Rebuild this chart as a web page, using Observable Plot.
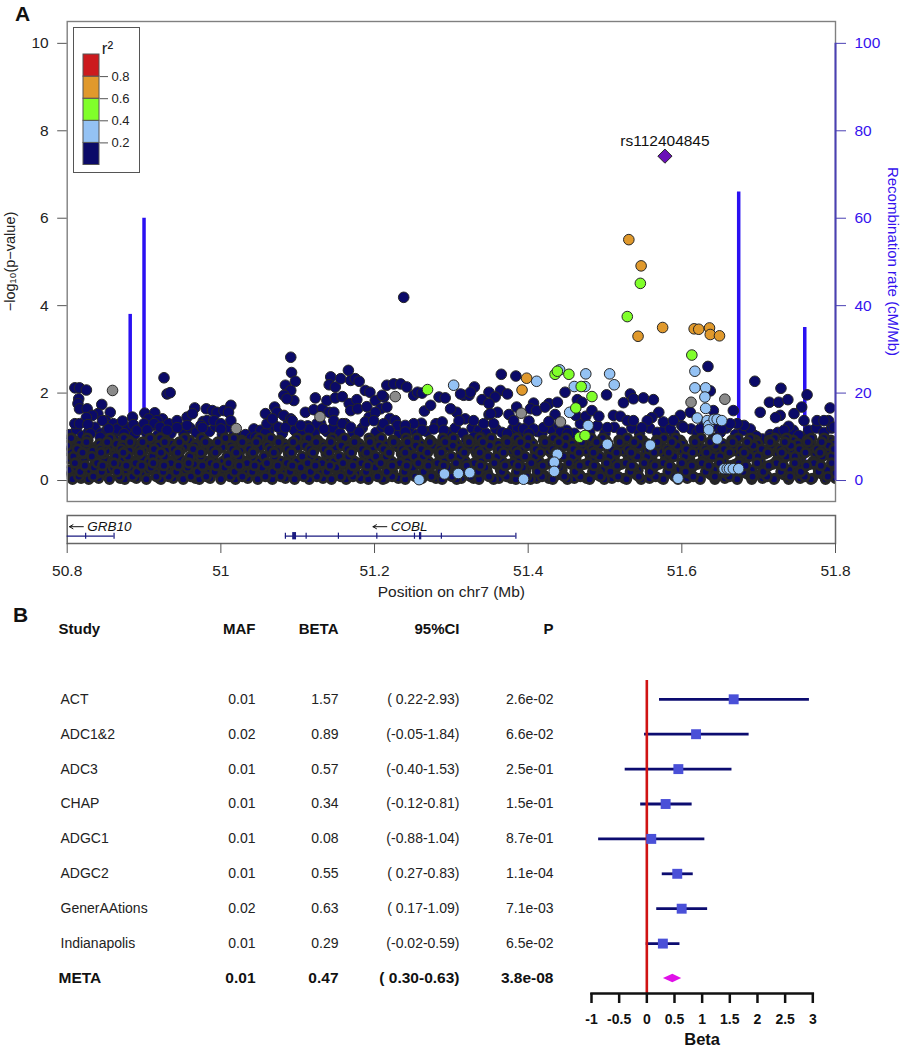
<!DOCTYPE html>
<html><head><meta charset="utf-8">
<script src="https://cdn.jsdelivr.net/npm/d3@7"></script>
<script src="https://cdn.jsdelivr.net/npm/@observablehq/plot@0.6"></script>
<style>
html,body{margin:0;padding:0;background:#fff;}
#page{position:relative;width:902px;height:1050px;overflow:hidden;font-family:"Liberation Sans",sans-serif;color:#111;}
#page>svg,#page>div{position:absolute;}
.tag{font-weight:bold;font-size:21px;line-height:21px;}
</style></head><body><div id="page"></div>
<script>
// --- Panel A data: positions are kb past 50.8 Mb, values are -log10(p)
const floorLevels=[0.50,0.13,0.92,0.37,0.76,0.05,0.61,0.24,0.84,0.03,0.44,0.68,0.17,0.97,0.30,0.55,0.09,0.80,0.40,0.72,0.20,0.64,0.34,0.88];
const floorA=[1,22,49,71,99,118,147,169,190,221,243,272,289,318,340,369,388,417,438,466,491,509,540,558,589,607,638,662,681,712,731,761,779,810,833,851,882,901,931,954,979];
const floorB=[4,31,50,78,101,131,148,179,199,230,249,277,301,322,352,371,400,419,449,468,497,521,539,569,588,620,638,667,690,711,741,760,789,812,838,858,887,909,933,958,984,1000];
const floorC=[9,27,58,80,110,128,159,178,209,227,257,276,309,326,358,375,405,424,456,473,504,522,553,571,602,620,650,669,701,718,749,767,798,816,847,865,896,914,945,963,994];
const floorD=[14,36,66,84,117,133,165,183,214,231,263,281,312,329,361,378,411,428,459,477,510,526,559,574,607,624,656,673,705,721,754,770,803,820,852,869,901,918,950,967,999];
const floorE=[6,37,54,87,104,137,152,185,202,236,251,283,300,333,349,382,398,431,447,481,496,529,545,578,594,627,643,676,692,725,741,774,790,823,839,872,888,921,937,970,986];
const floorF=[18,41,69,90,120,138,167,186,219,235,266,284,315,333,364,382,414,431,462,480,513,529,562,578,611,627,660,676,709,725,758,774,807,823,856,872,905,921,954,970,1000];
const floorG=[21,47,62,93,124,141,171,190,223,239,270,288,319,337,367,386,418,435,465,484,516,533,565,582,614,631,663,680,713,729,761,778,811,827,859,876,908,925,957,974,996];
const floorH=[2,29,53,76,106,124,154,173,204,222,253,271,303,320,351,369,399,417,448,467,499,516,546,564,597,613,644,662,696,711,743,760,793,809,842,858,891,907,940,956,989];
const floorI=[16,42,64,87,114,136,168,184,216,233,262,282,311,331,362,380,413,429,460,478,507,527,561,576,606,625,657,674,704,723,755,772,801,821,853,870,899,919,951,968,997];
const floorJ=[7,28,55,75,103,122,151,172,200,219,248,267,296,315,344,363,392,411,440,459,488,507,536,555,584,603,632,651,680,699,728,747,776,795,824,843,872,891,920,939,968,987];
const floorK=[11,38,59,86,107,134,155,182,203,230,251,278,299,326,347,374,395,422,443,470,491,518,539,566,587,614,635,662,683,710,731,758,779,806,827,854,875,902,923,950,971,998];
const floorL=[3,33,51,81,99,129,147,177,195,225,243,273,291,321,339,369,387,417,435,465,483,513,531,561,579,609,627,657,675,705,723,753,771,801,819,849,867,897,915,945,963,993];
const floorM=[19,40,67,88,115,136,163,184,211,232,259,280,307,328,355,376,403,424,451,472,499,520,547,568,595,616,643,664,691,712,739,760,787,808,835,856,883,904,931,952,979,1000];
const floorN=[5,26,56,74,108,121,153,175,206,217,250,265,299,314,345,361,393,409,441,455,489,503,537,552,585,600,633,649,682,697,729,745,777,792,825,841,873,889,921,936,969,985];
const floorO=[12,35,60,83,109,130,157,176,205,226,254,275,304,323,350,373,401,421,450,471,495,519,544,567,593,615,641,665,688,714,737,763,786,813,834,861,881,910,930,957,977];
const floorP=[8,32,63,79,111,127,160,174,208,224,256,270,306,317,354,366,402,415,452,463,500,511,548,560,596,609,646,658,693,706,742,755,790,804,840,850,888,899,936,947,983,995];
const floorQ=[15,34,68,85,116,132,161,181,212,228,258,278,308,325,356,372,404,423,453,474,501,525,549,572,598,618,647,668,694,717,744,766,791,815,843,862,892,911,941,960,990];
const floorR=[0,24,48,72,96,119,143,166,191,213,238,261,285,310,334,357,381,406,429,454,476,502,524,550,572,599,621,648,670,695,719,744,768,794,817,844,866,893,916,942,964,991];
const floorS=[10,39,61,89,112,135,158,187,210,234,260,286,313,332,359,383,408,433,457,482,506,530,556,580,604,629,653,678,702,727,751,776,800,826,849,874,898,923,947,972,995];
const floorT=[13,43,70,94,113,139,164,189,215,237,264,287,316,335,365,384,412,436,461,485,512,534,563,583,610,632,659,683,708,730,757,781,806,830,855,877,904,928,953,976,998];
const floorU=[17,45,65,91,125,142,170,192,218,241,268,290,317,338,368,389,416,439,464,486,515,535,566,585,612,634,661,684,707,733,759,782,805,831,857,880,906,929,955,978];
const floorV=[20,44,73,95,122,144,174,193,220,242,269,292,320,341,370,390,419,440,469,487,517,537,568,586,616,636,666,685,715,734,764,783,814,832,862,881,912,930,961,980];
const floorW=[23,46,77,97,126,145,176,194,224,244,274,293,323,342,372,391,423,442,470,490,520,538,570,587,619,637,667,686,716,735,765,784,813,835,863,883,913,932,962,981];
const floorX=[25,52,82,98,127,146,180,196,228,246,275,294,324,343,374,394,425,443,472,492,523,541,573,590,622,640,670,689,719,738,768,787,817,837,866,885,915,934,964,982];
const floorRows=[floorA,floorB,floorC,floorD,floorE,floorF,floorG,floorH,floorI,floorJ,floorK,floorL,floorM,floorN,floorO,floorP,floorQ,floorR,floorS,floorT,floorU,floorV,floorW,floorX];

const midKb=[3,12,20,28,36,44,52,60,70,78,88,95,103,110,118,127,135,146,152,160,168,177,185,193,202,210,218,225,232,240,250,262,270,280,288,296,305,313,322,330,338,346,355,362,372,384,393,402,410,420,432,445,455,468,480,495,505,515,527,536,545,558,566,580,590,598,612,618,630,640,650,660,668,680,690,700,712,722,735,745,758,768,778,790,800,812,820,830,842,850,858,870,880,893,905,915,925,935,945,955,965,975,985,995];
const midLog=[1.05,1.17,1.02,1.12,1.22,1.08,1.16,1.05,1.12,1.20,1.06,1.18,1.10,1.25,1.04,1.18,1.08,1.22,1.06,1.20,1.10,1.35,1.12,1.24,1.05,1.22,1.06,1.00,1.05,0.98,1.05,1.10,1.25,1.08,1.35,1.15,1.05,1.25,1.10,1.30,1.12,1.20,1.08,1.30,1.10,1.20,1.45,1.10,1.22,1.42,1.08,1.15,1.05,1.12,1.30,1.10,1.20,1.08,1.20,1.15,1.08,1.18,1.10,1.18,1.05,1.20,1.12,1.08,1.18,1.25,1.15,1.08,1.30,1.10,1.25,1.08,1.22,1.10,1.20,1.08,1.20,1.10,1.18,1.05,1.25,1.18,1.10,1.30,1.25,1.10,1.20,1.05,1.15,1.05,0.95,1.05,1.10,1.02,1.15,1.00,1.15,1.20,1.10,1.20];
const navyKb=[10,16,25,15,14,16,26,45,56,40,33,25,50,10,16,27,46,60,65,54,72,85,86,91,126,130,134,101,114,106,124,117,100,113,132,143,156,166,163,181,189,195,204,213,210,213,182,174,191,200,176,200,243,252,258,245,258,270,273,282,291,260,267,275,284,293,291,292,297,284,291,282,295,286,310,323,321,332,341,338,349,358,343,341,349,356,366,369,375,380,367,377,369,378,390,388,394,401,412,416,410,408,401,416,425,434,442,451,456,462,465,473,484,492,347,347,427,430,461,451,440,488,477,490,440,462,358,369,380,388,399,412,419,325,315,304,334,156,143,121,130,104,74,61,43,30,516,523,530,525,512,549,564,573,557,540,549,565,584,585,607,603,611,627,638,622,635,648,664,670,662,675,683,692,702,724,733,737,750,763,770,761,755,711,720,703,729,737,748,776,785,798,789,811,833,837,834,841,867,895,929,914,926,938,963,956,946,902,928,922,939,889,897,881,872,959,993,976,991,985,998,507,499,518,529,510,549,560,542,555,575,601,586,573,555,538,529,520,581,620,607,594,601,627,642,651,551,952,933,915,824,802,852,863,438];
const navyLog=[2.12,2.12,2.07,1.87,1.76,1.64,1.64,1.74,1.56,1.53,1.49,1.44,1.37,1.30,1.30,1.28,1.37,1.30,1.18,1.18,1.36,1.45,1.28,1.15,2.35,1.98,2.01,1.54,1.55,1.41,1.41,1.37,1.30,1.30,1.30,1.37,1.45,1.66,1.53,1.64,1.60,1.56,1.60,1.72,1.56,1.37,1.37,1.26,1.37,1.30,1.21,1.18,1.18,1.15,1.08,0.99,1.53,1.68,1.56,1.49,1.41,1.30,1.41,1.22,1.21,1.37,2.82,2.47,2.27,2.18,2.06,1.95,1.83,1.87,1.56,1.89,1.62,1.64,1.56,1.83,1.89,1.92,2.37,2.19,2.14,2.33,2.52,2.29,2.33,2.27,1.76,1.85,1.60,1.64,1.69,2.06,2.02,1.83,1.91,2.18,1.95,1.64,1.56,1.68,2.21,2.21,2.14,1.95,2.02,2.00,1.59,1.72,1.91,1.89,1.56,1.37,1.37,1.26,1.31,1.30,1.26,1.34,1.18,1.15,1.11,1.15,1.30,1.22,1.11,1.34,1.37,1.30,1.15,1.30,1.18,1.26,1.18,1.26,1.21,1.22,1.15,1.16,1.07,0.92,0.99,1.07,1.95,1.95,2.14,2.02,1.98,2.02,2.06,1.98,1.91,1.85,1.76,2.43,2.39,1.68,1.77,1.64,1.60,1.76,1.79,1.68,1.51,2.02,1.85,1.79,1.49,1.47,1.60,1.47,1.96,1.78,1.98,1.87,1.89,1.85,1.56,1.44,1.37,1.49,1.47,1.21,1.37,1.37,1.21,1.34,1.18,1.49,1.37,1.56,2.06,2.05,2.61,1.60,1.60,2.27,2.11,1.79,1.79,1.85,1.96,1.68,1.53,1.56,1.49,1.44,1.24,1.18,1.01,1.26,1.30,1.37,1.66,1.37,1.37,1.37,1.22,1.56,1.64,1.41,1.37,1.37,1.51,1.56,1.30,1.30,1.51,1.36,1.22,1.07,0.88,0.99,0.99,0.92,1.37,1.21,1.18,1.18,1.07,1.35,1.11,1.07,1.53,1.03,1.15,0.99,1.18,1.22,1.18,1.30,4.19];
const grayKb=[59,220,329,427,812,856,591,642];
const grayLog=[2.06,1.19,1.46,1.92,1.79,1.86,1.54,1.34];
const blueKb=[641,611,675,706,712,660,674,817,817,831,830,503,654,678,703,759,831,820,833,835,835,846,842,846,852,638,634,634,594,509,524,795,855,859,862,867,874,458,491];
const blueLog=[2.53,2.27,2.44,2.44,2.19,2.15,2.15,2.50,2.12,2.12,1.91,2.18,1.56,1.26,0.83,0.81,1.65,1.43,1.37,1.26,1.16,0.95,1.40,1.40,1.37,0.60,0.42,0.21,0.03,0.16,0.18,0.05,0.27,0.27,0.27,0.27,0.27,0.02,0.15];
const greenKb=[746,729,813,635,638,653,669,683,662,667,674,469];
const greenLog=[4.51,3.75,2.87,2.43,2.50,2.43,2.15,1.92,1.66,0.99,1.03,2.08];
const orangeKb=[731,747,775,743,816,822,836,837,849,598,592];
const orangeLog=[5.51,4.91,3.50,3.30,3.47,3.46,3.49,3.34,3.31,2.34,2.07];
const leadKb=[778];
const leadLog=[7.42];
const leadName="rs112404845";
const recombKb=[82,100,874,960];
const recombRate=[38,60,66,35];
const yTicks=[0,2,4,6,8,10];
const xTicks=[50.8,51,51.2,51.4,51.6,51.8];
// --- r2 legend
const r2Low=[0,0.2,0.4,0.6,0.8];
const r2High=[0.2,0.4,0.6,0.8,1];
const r2Colors=["#0b0a68","#94c2f4","#80ff2a","#e0992c","#cc1a1e"];
const r2Ticks=[0.2,0.4,0.6,0.8];
// --- gene track
const geneNames=["GRB10","COBL"];
const geneStart=[50.8,51.084];
const geneEnd=[50.861,51.384];
const geneArrowFrom=[50.821,51.216];
const geneArrowTo=[50.803,51.198];
const geneLabelX=[50.826,51.221];
const exonTicks=[50.824,50.861,51.084,51.111,51.153,51.203,51.252,51.287,51.384];
const exonBoxStart=[51.0935,51.2585];
const exonBoxEnd=[51.0985,51.2615];
// --- Panel B data
const studies=["ACT","ADC1&2","ADC3","CHAP","ADGC1","ADGC2","GenerAAtions","Indianapolis","META"];
const mafs=["0.01","0.02","0.01","0.01","0.01","0.01","0.02","0.01","0.01"];
const betas=[1.57,0.89,0.57,0.34,0.08,0.55,0.63,0.29,0.47];
const ciLow=[0.22,-0.05,-0.40,-0.12,-0.88,0.27,0.17,-0.02,0.30];
const ciHigh=[2.93,1.84,1.53,0.81,1.04,0.83,1.09,0.59,0.63];
const ciText=["( 0.22-2.93)","(-0.05-1.84)","(-0.40-1.53)","(-0.12-0.81)","(-0.88-1.04)","( 0.27-0.83)","( 0.17-1.09)","(-0.02-0.59)","( 0.30-0.63)"];
const pvals=["2.6e-02","6.6e-02","2.5e-01","1.5e-01","8.7e-01","1.1e-04","7.1e-03","6.5e-02","3.8e-08"];
const headers=["Study","MAF","BETA","95%CI","P"];
const betaTicks=[-1,-0.5,0,0.5,1,1.5,2,2.5,3];

const FONT='"Liberation Sans",Arial,sans-serif';
const base={style:{background:"transparent",fontFamily:FONT}};
const page=document.getElementById("page");
const place=(el,left,top)=>{el.style.left=left+"px";el.style.top=top+"px";page.appendChild(el);return el;};
const kb=k=>50.8+k/1000;
const pts=(xs,ys)=>xs.map((k,i)=>({x:kb(k),y:ys[i]}));
const disc=(xs,ys,fill)=>Plot.dot(pts(xs,ys),{x:"x",y:"y",r:5.3,fill,stroke:"#262626",strokeWidth:1,clip:true});

// Panel A
const floorMarks=floorRows.map((row,i)=>Plot.dot(row,{x:kb,y:()=>floorLevels[i],r:4.3,fill:"#0b0a68",stroke:"#262626",strokeWidth:2.8,clip:true}));
place(Plot.plot({...base,width:902,height:510,marginLeft:66.7,marginRight:67,marginTop:21,marginBottom:9,
  x:{domain:[50.8,51.8],axis:null},
  y:{domain:[-0.48,10.5],axis:null},
  marks:[
    Plot.ruleX(recombKb.map(kb),{y1:0,y2:(d,i)=>recombRate[i]/10,stroke:"#2a10f2",strokeWidth:3.5}),
    disc(midKb,midLog,"#0b0a68"),
    disc(navyKb,navyLog,"#0b0a68"),
    ...floorMarks,
    disc(grayKb,grayLog,"#8a8a8a"),
    disc(blueKb,blueLog,"#94c2f4"),
    disc(greenKb,greenLog,"#80ff2a"),
    disc(orangeKb,orangeLog,"#e0992c"),
    Plot.dot(pts(leadKb,leadLog),{x:"x",y:"y",r:6.4,symbol:"diamond2",fill:"#6a10b8",stroke:"#262626",strokeWidth:1}),
    Plot.text(pts(leadKb,leadLog),{x:"x",y:"y",text:()=>leadName,dy:-15,fontSize:15.5,fill:"#111"}),
    Plot.frame({stroke:"#808080",strokeWidth:1.4}),
    Plot.ruleX([51.8],{y1:0,y2:10,stroke:"#4a40b4",strokeWidth:2}),
    Plot.axisY({ticks:yTicks,tickSize:9.5,tickPadding:9,fontSize:15.5,label:null,stroke:"#555",fill:"#222"}),
    Plot.axisY({anchor:"right",ticks:yTicks,tickSize:10,tickPadding:9,fontSize:15.5,label:null,tickFormat:d=>d*10,stroke:"#4a40b4",fill:"#3512ee"}),
    Plot.text(["\u2212log\u2081\u2080(p\u2212value)"],{frameAnchor:"left",textAnchor:"middle",dx:-57,rotate:-90,fontSize:14.5,fill:"#222"}),
    Plot.text(["Recombination rate (cM/Mb)"],{frameAnchor:"right",textAnchor:"middle",dx:57,rotate:90,fontSize:15,fill:"#3512ee"})
  ]}),0,0);

// r2 legend
const legend=place(Plot.plot({...base,width:65,height:144,marginLeft:9,marginRight:40,marginTop:26,marginBottom:7.5,
  y:{domain:[0,1],axis:null},
  marks:[
    Plot.rect(r2Colors,{y1:(d,i)=>r2Low[i],y2:(d,i)=>r2High[i],fill:d=>d,stroke:"#555",strokeWidth:1}),
    Plot.axisY({anchor:"right",ticks:r2Ticks,tickSize:8,tickPadding:4,fontSize:13,label:null,stroke:"#555",fill:"#222"}),
    Plot.text(["r\u00B2"],{frameAnchor:"top",dx:16,dy:-13,fontSize:17,fill:"#222"})
  ]}),74,28);
legend.style.outline="1.4px solid #555";

// gene track and shared position axis
place(Plot.plot({...base,width:902,height:100,marginLeft:66.7,marginRight:67,marginTop:10,marginBottom:62,
  x:{domain:[50.8,51.8],axis:null},
  y:{domain:[0,1],axis:null},
  marks:[
    Plot.frame({stroke:"#666",strokeWidth:1.5}),
    Plot.ruleY(geneNames,{x1:(d,i)=>geneStart[i],x2:(d,i)=>geneEnd[i],y:()=>0.26,stroke:"#1a1a80",strokeWidth:1.3}),
    Plot.ruleX(exonTicks,{y1:0.15,y2:0.37,stroke:"#1a1a80",strokeWidth:1.2}),
    Plot.rect(exonBoxStart,{x1:d=>d,x2:(d,i)=>exonBoxEnd[i],y1:0.13,y2:0.39,fill:"#1a1a80"}),
    Plot.arrow(geneNames,{x1:(d,i)=>geneArrowFrom[i],x2:(d,i)=>geneArrowTo[i],y1:()=>0.6,y2:()=>0.6,stroke:"#111",strokeWidth:1,headLength:6,bend:0}),
    Plot.text(geneNames,{x:(d,i)=>geneLabelX[i],y:()=>0.6,text:d=>d,textAnchor:"start",fontStyle:"italic",fontSize:13.5,fill:"#111"}),
    Plot.axisX({ticks:xTicks,tickSize:10,tickPadding:11,fontSize:15.5,tickFormat:d=>String(d),label:"Position on chr7 (Mb)",labelAnchor:"center",labelArrow:"none",labelOffset:53,stroke:"#555",fill:"#222"})
  ]}),0,505);

// Panel B table
const rowY={domain:[-2,8],range:[19,368],axis:null};
const cols=[studies,mafs,betas.map(b=>b.toFixed(2)),ciText,pvals];
const colEdge=[58,255,338,459,553];
const cellMarks=headers.flatMap((h,c)=>{
  const textAnchor=c===0?"start":"end";
  const dx=colEdge[c];
  return [
    Plot.text([h],{frameAnchor:"left",y:()=>-2,text:d=>d,textAnchor,dx,fontWeight:"bold",fontSize:15,fill:"#111"}),
    Plot.text(cols[c].slice(0,8),{frameAnchor:"left",y:(d,i)=>i,text:d=>d,textAnchor,dx:dx+(c===0?2:0),fontSize:14,fill:"#222"}),
    Plot.text(cols[c].slice(8),{frameAnchor:"left",y:()=>8,text:d=>d,textAnchor,dx,fontWeight:"bold",fontSize:15.5,fill:"#111"})
  ];
});
place(Plot.plot({...base,width:570,height:440,marginTop:0,marginBottom:0,marginLeft:0,marginRight:0,
  x:{domain:[0,1],axis:null},
  y:rowY,marks:cellMarks}),0,610);

// Panel B forest
const forest=betas.slice(0,8).map((b,i)=>({b,lo:ciLow[i],hi:ciHigh[i],row:i}));
const metaShape=[{x:ciLow[8],lo:8,hi:8},{x:betas[8],lo:7.88,hi:8.12},{x:ciHigh[8],lo:8,hi:8}];
place(Plot.plot({...base,width:332,height:440,marginTop:70,marginBottom:57,marginLeft:21,marginRight:89.7,
  x:{domain:[-1,3],axis:null},
  y:rowY,
  marks:[
    Plot.link(forest,{x1:"lo",x2:"hi",y1:"row",y2:"row",stroke:"#0c0c70",strokeWidth:2.8}),
    Plot.ruleX([0],{stroke:"#d01414",strokeWidth:2.6}),
    Plot.dot(forest,{x:"b",y:"row",symbol:"square",r:5.6,fill:"#4a50d8"}),
    Plot.area(metaShape,{x1:"x",y1:"lo",y2:"hi",fill:"#e010e8"}),
    Plot.frame({anchor:"bottom",stroke:"#111",strokeWidth:2.5}),
    Plot.axisX({ticks:betaTicks,tickSize:10,tickPadding:11,fontSize:14,fontWeight:"bold",tickFormat:d=>String(d),label:null,stroke:"#111",strokeWidth:2.5,fill:"#111"}),
    Plot.text(["Beta"],{frameAnchor:"bottom",dy:51,fontWeight:"bold",fontSize:16.5,fill:"#111"})
  ]}),570,610);

// panel letters
for(const [t,l,tp] of [["A",15,3],["B",13,604]]){
  const d=document.createElement("div");d.className="tag";d.textContent=t;place(d,l,tp);
}
</script></body></html>
